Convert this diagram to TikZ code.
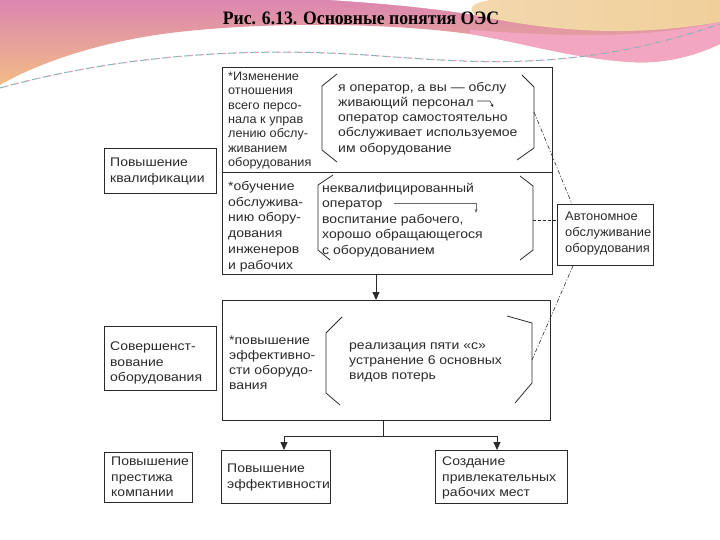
\documentclass[tikz,border=0pt]{standalone}
\usepackage{fontspec}
\setmainfont{Liberation Sans}
\newfontfamily\bodyfont[FakeStretch=1.12]{Liberation Sans}
\newfontfamily\narrowfont[FakeStretch=1.03]{Liberation Sans}
\newfontfamily\titlefont{Liberation Serif}
\usetikzlibrary{arrows.meta}
\definecolor{ink}{HTML}{2A2A2A}
\definecolor{bgpink}{HTML}{DC86B0}
\definecolor{bgorange}{HTML}{F1BC86}
\definecolor{bgbeige}{HTML}{F0CF9A}
\definecolor{bgpinklt}{HTML}{F2A6C2}
\definecolor{dashteal}{HTML}{7FB8B8}
\definecolor{dashpink}{HTML}{E7A0B8}
\tikzset{
  txt/.style={anchor=north west, inner sep=0pt, align=left, text=ink,
    font=\bodyfont\fontsize{12.5}{16}\selectfont},
  boxframe/.style={draw=ink, line width=0.9pt},
  plainbox/.style={draw=ink, line width=0.8pt, inner sep=0pt},
  brk/.style={draw=ink, line width=0.8pt},
  conn/.style={draw=ink, line width=0.8pt},
  arr/.style={conn, -{Triangle[length=8pt,width=7pt]}},
  dd/.style={draw=ink, line width=0.6pt, dash pattern=on 4pt off 2pt on 1pt off 2pt},
  dsh/.style={draw=ink, line width=0.7pt, dash pattern=on 3pt off 2pt}
}
\begin{document}
\begin{tikzpicture}[x=1pt,y=-1pt]
\useasboundingbox (0,0) rectangle (720,540);
% ---------- background decoration ----------
\shade[top color=bgpink, bottom color=bgorange]
  (0,0) -- (720,0) -- (720,44) .. controls (690,58) and (660,64) .. (630,62)
  .. controls (570,58) and (520,42) .. (470,34)
  .. controls (380,22) and (260,22) .. (170,33)
  .. controls (100,42) and (40,62) .. (0,85) -- cycle;
\fill[bgpinklt] (470,30) .. controls (560,36) and (640,40) .. (720,22) -- (720,44)
  .. controls (690,58) and (660,64) .. (630,62) .. controls (570,58) and (520,42) .. (470,34) -- cycle;
\shade[left color=bgbeige!80!white, right color=bgbeige]
  (470,0) -- (720,0) -- (720,22) .. controls (640,36) and (560,34) .. (470,14) -- cycle;
\fill[white] (330,0) .. controls (390,4) and (430,8) .. (475,15)
  .. controls (468,9) and (470,3) .. (490,0) -- cycle;
\draw[dashteal, line width=1pt, dash pattern=on 7pt off 4pt]
  (0,88) .. controls (120,55) and (250,46) .. (380,56) .. controls (480,63) and (580,72) .. (720,24);
\draw[dashpink, line width=1pt, dash pattern=on 4pt off 7pt, dash phase=6pt]
  (0,88) .. controls (120,55) and (250,46) .. (380,56) .. controls (480,63) and (580,72) .. (720,24);
% ---------- title ----------
\node[inner sep=0pt, text=black, font=\titlefont\bfseries\fontsize{19}{19}\selectfont] (title) at (361,18)
  {\scalebox{0.93}[1]{Рис. 6.13. Основные понятия ОЭС}};
% ---------- box 1 ----------
\node[boxframe, inner sep=0pt, minimum width=330pt, minimum height=207pt, anchor=north west] (box1) at (222,67) {};
\draw[boxframe] (222,172) -- (552,172);
\node[txt, font=\narrowfont\fontsize{12.3}{14.3}\selectfont] (t1a) at (228,72)
  {*Изменение\\отношения\\всего персо-\\нала к управ\\лению обслу-\\живанием\\оборудования};
\node[txt, font=\bodyfont\fontsize{12.5}{15.2}\selectfont] (t1b) at (338,82)
  {я оператор, а вы — обслу\\живающий персонал\\оператор самостоятельно\\обслуживает используемое\\им оборудование};
\draw[brk] (337,74) -- (322,86) -- (322,150) -- (337,162);
\draw[brk] (522,75) -- (534,87) -- (534,148) -- (517,160);
\coordinate (pa1) at (477,101);
\coordinate (pa2) at (490,101);
\coordinate (pa3) at (493,107);
\draw[ink, line width=0.6pt, -{Stealth[length=3pt,width=3pt]}] (pa1) -- (pa2) -- (pa3);
\node[txt, font=\bodyfont\fontsize{12.5}{15.8}\selectfont] (t1c) at (228,181)
  {*обучение\\обслужива-\\нию обору-\\дования\\инженеров\\и рабочих};
\node[txt, font=\bodyfont\fontsize{12.5}{15.5}\selectfont] (t1d) at (322,183)
  {неквалифицированный\\оператор\\воспитание рабочего,\\хорошо обращающегося\\с оборудованием};
\draw[brk] (333,175) -- (318,185) -- (318,250) -- (330,260);
\draw[brk] (520,176) -- (533,186) -- (533,250) -- (520,260);
\coordinate (pb1) at (394,203);
\coordinate (pb2) at (476,203);
\coordinate (pb3) at (476,213);
\draw[ink!70, line width=0.6pt, -{Stealth[length=4pt,width=3pt]}] (pb1) -- (pb2) -- (pb3);
% ---------- box 2 ----------
\node[boxframe, inner sep=0pt, minimum width=328pt, minimum height=120pt, anchor=north west] (box2) at (222,300) {};
\node[txt, font=\bodyfont\fontsize{12.5}{15}\selectfont] (t2a) at (229,336)
  {*повышение\\эффективно-\\сти оборудо-\\вания};
\node[txt, font=\bodyfont\fontsize{12.5}{15}\selectfont] (t2b) at (349,343)
  {реализация пяти «с»\\устранение 6 основных\\видов потерь};
\draw[brk] (342,317) -- (326,333) -- (326,393) -- (340,405);
\draw[brk] (507,316) -- (532,323) -- (532,383) -- (515,403);
% ---------- left boxes ----------
\node[plainbox, minimum width=112pt, minimum height=45pt, anchor=north west] (kval) at (104,148) {};
\node[txt] (kvalt) at (110,158) {Повышение\\квалификации};
\node[plainbox, minimum width=112pt, minimum height=64pt, anchor=north west] (sov) at (104,326) {};
\node[txt, font=\bodyfont\fontsize{12.5}{15.5}\selectfont] (sovt) at (110,342) {Совершенст-\\вование\\оборудования};
\node[plainbox, minimum width=88pt, minimum height=50pt, anchor=north west] (prest) at (104,452) {};
\node[txt, font=\bodyfont\fontsize{12.5}{15.5}\selectfont] (prestt) at (111,457) {Повышение\\престижа\\компании};
% ---------- right box ----------
\node[plainbox, minimum width=96pt, minimum height=61pt, anchor=north west] (auto) at (557,204) {};
\node[txt, font=\narrowfont\fontsize{12.5}{16}\selectfont] (autot) at (565,212) {Автономное\\обслуживание\\оборудования};
% ---------- bottom boxes ----------
\node[plainbox, minimum width=109pt, minimum height=53pt, anchor=north west] (eff) at (221,450) {};
\node[txt] (efft) at (227,464) {Повышение\\эффективности};
\node[plainbox, minimum width=132pt, minimum height=53pt, anchor=north west] (work) at (435,450) {};
\node[txt, font=\bodyfont\fontsize{12.5}{15.5}\selectfont] (workt) at (442,457) {Создание\\привлекательных\\рабочих мест};
% ---------- connectors ----------
\draw[arr] (box1.south -| 376,0) -- (box2.north -| 376,0);
\coordinate (split) at (383,436);
\draw[conn] (box2.south -| split) -- (split);
\draw[arr] (split) -| (eff.north -| 284,0);
\draw[arr] (split) -| (work.north -| 497,0);
\coordinate (brA) at (534,112);
\coordinate (brB) at (533,220);
\coordinate (brC) at (532,360);
\draw[dd] (brA) -- (auto.north -| 572,0);
\draw[dsh] (brB) -- (auto.west |- brB);
\draw[dd] (auto.south -| 573,0) -- (brC);
\end{tikzpicture}
\end{document}
